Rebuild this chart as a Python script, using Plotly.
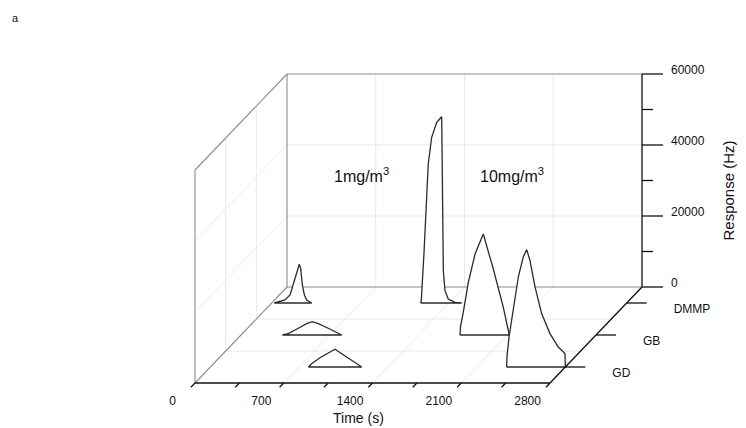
import plotly.graph_objects as go

# ---------------- data ----------------
gases = ["DMMP", "GB", "GD"]
time_ticks = [0, 350, 700, 1050, 1400, 1750, 2100, 2450, 2800]
time_labels = ["0", "", "700", "", "1400", "", "2100", "", "2800"]
resp_ticks = [0, 10000, 20000, 30000, 40000, 50000, 60000]
resp_labels = ["0", "", "20000", "", "40000", "", "60000"]
time_grid = [700, 1400, 2100]
resp_grid = [20000, 40000]

# 1 mg/m3 exposures
dmmp_1_time = [20, 105, 145, 184, 218, 229, 242, 258, 276, 316]
dmmp_1_resp = [0, 850, 2250, 6950, 10900, 9770, 5070, 2250, 850, 0]
gb_1_time = [326, 373, 452, 518, 562, 610, 688, 767, 794]
gb_1_resp = [0, 400, 1900, 3200, 3780, 3200, 1900, 400, 0]
gd_1_time = [773, 799, 865, 930, 983, 1036, 1102, 1167, 1194]
gd_1_resp = [0, 930, 2620, 4030, 4990, 3750, 2170, 760, 0]

# 10 mg/m3 exposures
dmmp_10_time = [1175, 1180, 1201, 1217, 1235, 1262, 1302, 1341, 1354, 1367, 1393, 1446, 1499]
dmmp_10_resp = [0, 650, 13800, 27900, 39150, 46680, 50900, 52480, 9100, 3460, 1130, 200, 0]
gb_10_time = [1727, 1732, 1753, 1793, 1846, 1911, 1990, 2069, 2116]
gb_10_resp = [0, 2500, 6370, 14820, 22820, 28450, 18590, 7770, 0]
gd_10_time = [2337, 2340, 2356, 2390, 2429, 2468, 2495, 2521, 2561, 2613, 2679, 2744, 2797, 2800]
gd_10_resp = [0, 3000, 8450, 16900, 25350, 30990, 33070, 30060, 22540, 15040, 9410, 5630, 3770, 0]

peaks = [
    (0, dmmp_1_time, dmmp_1_resp), (0, dmmp_10_time, dmmp_10_resp),
    (1, gb_1_time, gb_1_resp), (1, gb_10_time, gb_10_resp),
    (2, gd_1_time, gd_1_resp), (2, gd_10_time, gd_10_resp),
]

# ---------------- oblique projection (depth shear in axis units) ----------------
T_MAX, Z_MAX = 2800, 60000
DEPTH_T = -725.6     # time-axis shift for full depth
DEPTH_Z = -27042     # response-axis shift for full depth
N_CAT = len(gases)
PX_T = 7.887         # time units per pixel
PX_Z = 281.7         # response units per pixel

# page body has an 8px margin: figure is 8px smaller, ranges start 8px in
FIG_W, FIG_H = 738, 420
X_RANGE = [-2200.6, 3620.3]
Y_RANGE = [-39718, 78592]


def cat_depth(i):
    return (i + 0.5) / N_CAT


def P(t, d, z):
    return t + d * DEPTH_T, z + d * DEPTH_Z


def segs(pairs):
    xs, ys = [], []
    for a, b in pairs:
        x0, y0 = P(*a)
        x1, y1 = P(*b)
        xs += [x0, x1, None]
        ys += [y0, y1, None]
    return xs, ys


fig = go.Figure()


def add_lines(pairs, color, width):
    xs, ys = segs(pairs)
    fig.add_trace(go.Scatter(x=xs, y=ys, mode="lines", hoverinfo="skip",
                             line=dict(color=color, width=width), showlegend=False))


FONT = "Liberation Sans, Arial, sans-serif"


def add_text(pts, texts, pos, size=12):
    fig.add_trace(go.Scatter(x=[p[0] for p in pts], y=[p[1] for p in pts],
                             text=texts, mode="text", textposition=pos,
                             hoverinfo="skip", showlegend=False,
                             textfont=dict(family=FONT, size=size, color="#111")))


GRID = "#e3e3e3"
WALL = "#8c8c8c"
AX = "#111111"

# grid lines
grid = []
for t in time_grid:
    grid.append(((t, 0, 0), (t, 0, Z_MAX)))      # back wall verticals
    grid.append(((t, 0, 0), (t, 1, 0)))          # floor diagonals
for z in resp_grid:
    grid.append(((0, 0, z), (T_MAX, 0, z)))      # back wall horizontals
    grid.append(((0, 0, z), (0, 1, z)))          # left wall diagonals
for k in range(1, N_CAT):
    d = k / N_CAT
    grid.append(((0, d, 0), (T_MAX, d, 0)))      # floor horizontals
    grid.append(((0, d, 0), (0, d, Z_MAX)))      # left wall verticals
add_lines(grid, GRID, 0.8)

# wall frames
walls = [
    ((0, 0, Z_MAX), (T_MAX, 0, Z_MAX)),
    ((0, 0, 0), (0, 0, Z_MAX)),
    ((0, 0, 0), (T_MAX, 0, 0)),
    ((0, 0, Z_MAX), (0, 1, Z_MAX)),
    ((0, 1, 0), (0, 1, Z_MAX)),
    ((0, 0, 0), (0, 1, 0)),
]
add_lines(walls, WALL, 1.1)

# peaks, back to front
for i, ts, zs in peaks:
    d = cat_depth(i)
    xs, ys = [], []
    for t, z in zip(ts + ts[:1], zs + zs[:1]):
        x, y = P(t, d, z)
        xs.append(x)
        ys.append(y)
    fig.add_trace(go.Scatter(x=xs, y=ys, mode="lines", fill="toself",
                             fillcolor="white", hoverinfo="skip",
                             line=dict(color="#2a2a2a", width=1.3), showlegend=False))

# axes
axes = [
    ((0, 1, 0), (T_MAX, 1, 0)),                 # time axis
    ((T_MAX, 0, 0), (T_MAX, 0, Z_MAX)),         # response axis
    ((T_MAX, 0, 0), (T_MAX, 1, 0)),             # gas axis
]
for t in time_ticks:
    axes.append(((t, 1, 0), (t, 1.045, 0)))
for z, lab in zip(resp_ticks, resp_labels):
    L = 21 * PX_T if lab else 11 * PX_T
    axes.append(((T_MAX, 0, z), (T_MAX + L, 0, z)))
for i in range(N_CAT):
    d = cat_depth(i)
    axes.append(((T_MAX, d, 0), (T_MAX + 20 * PX_T, d, 0)))
add_lines(axes, AX, 1.3)

# tick labels (text traces placed in axis units)
tl = [(t, lab) for t, lab in zip(time_ticks, time_labels) if lab]
add_text([P(t - 4 * PX_T, 1.2, 0) for t, _ in tl], [lab for _, lab in tl], "middle center")
rl = [(z, lab) for z, lab in zip(resp_ticks, resp_labels) if lab]
add_text([P(T_MAX + 29 * PX_T, 0, z + 3 * PX_Z) for z, _ in rl], [lab for _, lab in rl],
         "middle right")
add_text([P(T_MAX + 47 * PX_T, cat_depth(i), -7 * PX_Z) for i in range(N_CAT)], gases,
         "middle right")

ann = []
x, y = P(T_MAX / 2, 1, 0)
ann.append(dict(x=x, y=y, text="Time (s)", xshift=-14, yshift=-35,
                xanchor="center", yanchor="middle", font=dict(size=14)))
x, y = P(T_MAX, 0, Z_MAX / 2)
ann.append(dict(x=x, y=y, text="Response (Hz)", xshift=86, yshift=-10, textangle=-90,
                xanchor="center", yanchor="middle", font=dict(size=15)))
ann.append(dict(x=584, y=31550, text="1mg/m<sup>3</sup>", xanchor="center",
                yanchor="middle", font=dict(size=16)))
ann.append(dict(x=1775, y=31550, text="10mg/m<sup>3</sup>", xanchor="center",
                yanchor="middle", font=dict(size=16)))
ann.append(dict(x=7 / FIG_W, y=1 - 10 / FIG_H, xref="paper", yref="paper", text="a",
                xanchor="center", yanchor="middle", font=dict(size=11)))
for a in ann:
    a.setdefault("showarrow", False)
    a["font"] = dict(family=FONT, color="#111", **a["font"])

fig.update_layout(
    width=FIG_W, height=FIG_H, autosize=False,
    margin=dict(l=0, r=0, t=0, b=0),
    paper_bgcolor="white", plot_bgcolor="white",
    xaxis=dict(range=X_RANGE, visible=False, fixedrange=True),
    yaxis=dict(range=Y_RANGE, visible=False, fixedrange=True),
    annotations=ann,
    font=dict(family=FONT),
)
fig.write_html("out.html")
